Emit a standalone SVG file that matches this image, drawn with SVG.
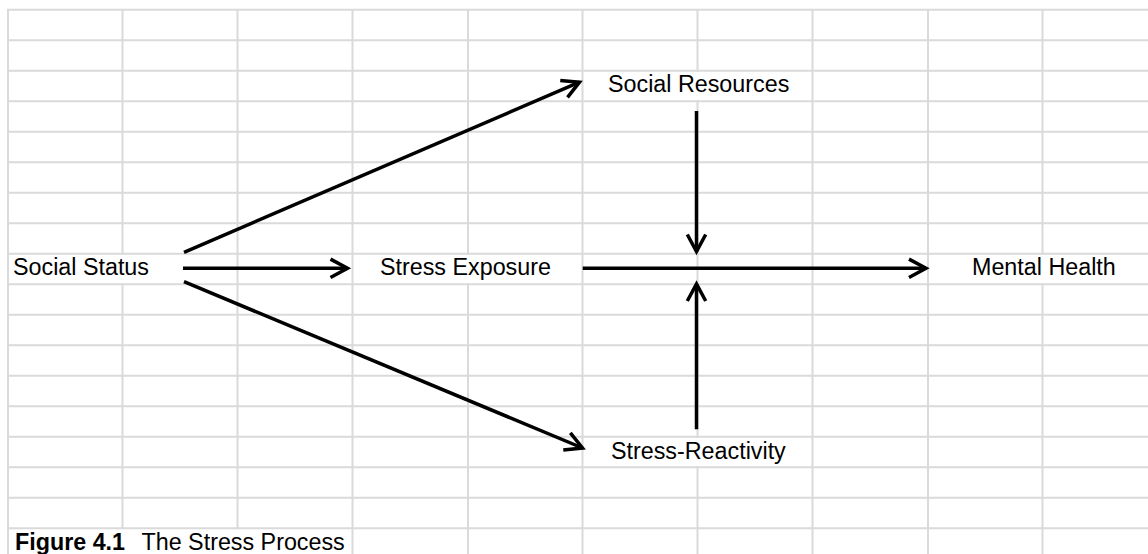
<svg xmlns="http://www.w3.org/2000/svg" width="1148" height="554" viewBox="0 0 1148 554">
<style>
.grid{stroke:#dadada;stroke-width:2;fill:none}
.lbl{font-family:"Liberation Sans",Arial,sans-serif;font-size:23.3px;fill:#000}
.b{font-weight:bold}
.conn{stroke:#000;stroke-width:3.5;fill:none;marker-end:url(#ah)}
</style>
<defs>
<marker id="ah" markerUnits="userSpaceOnUse" viewBox="-22 -12 26 24" refX="0" refY="0" markerWidth="26" markerHeight="24" orient="auto">
<path d="M-17,-9.2 L0,0 L-17,9.2" stroke="#000" stroke-width="3.5" fill="none"/>
</marker>
</defs>
<rect width="1148" height="554" fill="#fff"/>
<g id="grid" class="grid">
<path d="M7,9.7H1148 M7,40.2H1148 M7,70.7H1148 M7,101.2H1148 M7,131.7H1148 M7,162.2H1148 M7,192.7H1148 M7,223.2H1148 M7,253.7H1148 M7,284.2H1148 M7,314.7H1148 M7,345.2H1148 M7,375.7H1148 M7,406.2H1148 M7,436.7H1148 M7,467.2H1148 M7,497.7H1148 M7,528.2H1148"/>
<path d="M8,9V554 M122.5,9V254.7 M122.5,283.2V529.2 M237.5,9V529.2 M352.5,9V554 M468,9V254.7 M468,283.2V554 M582.5,9V554 M697.5,9V71.7 M697.5,100.2V437.7 M697.5,466.2V554 M812.5,9V554 M928,9V554 M1042.5,9V254.7 M1042.5,283.2V554"/>
</g>
<g id="connectors">
<path class="conn" d="M183,268.3H347.5"/>
<path class="conn" d="M184,252.3L579.5,82.2"/>
<path class="conn" d="M184,281.7L582.5,448"/>
<path class="conn" d="M582.7,268.3H926"/>
<path class="conn" d="M696.5,111V251.5"/>
<path class="conn" d="M696.5,429.3V284"/>
</g>
<g id="node-social-status"><text class="lbl" x="13" y="275">Social Status</text></g>
<g id="node-stress-exposure"><text class="lbl" x="380" y="275">Stress Exposure</text></g>
<g id="node-mental-health"><text class="lbl" x="972" y="275">Mental Health</text></g>
<g id="node-social-resources"><text class="lbl" x="608" y="92">Social Resources</text></g>
<g id="node-stress-reactivity"><text class="lbl" x="611" y="459">Stress-Reactivity</text></g>
<g id="caption"><text class="lbl" y="549.5"><tspan class="b" x="15">Figure 4.1</tspan><tspan x="141.5">The Stress Process</tspan></text></g>
</svg>
